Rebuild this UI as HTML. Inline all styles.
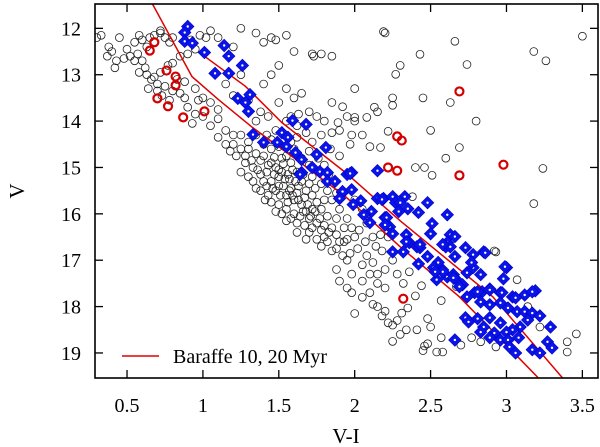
<!DOCTYPE html>
<html><head><meta charset="utf-8"><style>
html,body{margin:0;padding:0;background:#fff;}
svg{display:block;}
text{font-family:"Liberation Serif",serif;fill:#000;}
</style></head><body>
<svg id="chart" width="600" height="447" xmlns="http://www.w3.org/2000/svg">
<defs><clipPath id="clip"><rect x="95" y="4" width="503" height="374"/></clipPath></defs>
<g id="marks" clip-path="url(#clip)"></g>
<g id="axes"></g>
</svg>
<script>
const xTicks=[0.5,1,1.5,2,2.5,3,3.5];
const xTickLabels=["0.5","1","1.5","2","2.5","3","3.5"];
const yTicks=[12,13,14,15,16,17,18,19];
const yTickLabels=["12","13","14","15","16","17","18","19"];
const iso10VI=[0.665,0.928,1.10,1.32,1.64,1.94,2.30,2.69,3.21];
const iso10V=[11.46,13.04,13.53,14.12,14.89,15.63,16.71,17.79,19.54];
const iso20VI=[1.01,1.28,1.52,1.94,2.30,2.91,3.37];
const iso20V=[12.60,13.25,14.03,15.11,16.15,17.79,19.54];
const redVI=[0.68,0.65,0.76,0.82,0.82,0.70,0.77,0.87,1.01,2.28,2.31,2.22,2.28,2.69,2.98,2.69,2.32];
const redV=[12.30,12.48,12.91,13.04,13.23,13.51,13.68,13.92,13.79,14.33,14.42,15.00,15.07,15.17,14.94,13.36,17.83];
const blue=[[0.90,11.96],[0.88,12.09],[0.88,12.28],[0.93,12.32],[1.14,12.37],[1.01,12.52],[1.17,12.60],[1.26,12.80],[1.08,12.97],[1.17,12.97],[1.31,13.43],[1.23,13.51],[1.28,13.60],[1.30,13.79],[1.59,13.99],[1.68,14.07],[1.33,14.29],[1.40,14.46],[1.52,14.25],[1.56,14.35],[1.49,14.46],[1.55,14.55],[1.61,14.68],[1.65,14.83],[1.81,14.57],[1.75,14.72],[1.65,15.11],[1.72,15.00],[1.77,15.09],[1.82,15.11],[1.82,15.30],[1.87,15.30],[1.92,15.54],[1.64,15.15],[1.95,15.15],[1.98,15.11],[2.15,15.07],[1.97,15.13],[1.92,15.52],[1.98,15.48],[1.90,15.67],[2.04,15.72],[1.99,15.80],[2.11,15.95],[2.15,15.67],[2.19,15.67],[2.25,15.63],[2.27,15.76],[2.06,16.02],[2.10,16.19],[2.20,16.08],[2.23,16.28],[2.25,16.43],[2.25,16.82],[2.33,15.63],[2.30,15.76],[2.18,15.69],[2.48,15.76],[2.61,16.02],[2.35,15.89],[2.42,15.97],[2.29,15.95],[2.21,16.08],[2.20,16.24],[2.51,16.21],[2.50,16.43],[2.34,16.45],[2.36,16.62],[2.41,16.71],[2.63,16.45],[2.66,16.49],[2.61,16.62],[2.60,16.71],[2.63,16.71],[2.32,16.82],[2.43,16.73],[2.48,16.92],[2.55,17.05],[2.66,16.92],[2.73,16.73],[2.78,16.88],[2.85,16.82],[2.74,17.27],[2.78,17.16],[2.83,17.31],[2.42,17.08],[2.52,17.16],[2.58,17.21],[2.54,17.42],[2.61,17.36],[2.65,17.31],[2.67,17.42],[2.71,17.53],[3.00,17.16],[2.98,17.40],[2.89,17.62],[2.96,17.70],[3.04,17.79],[3.12,17.75],[3.19,17.66],[2.79,17.70],[2.84,17.68],[2.74,17.79],[2.34,16.60],[2.43,16.66],[2.58,16.66],[2.86,16.84],[2.77,17.05],[2.99,17.14],[2.58,17.25],[2.53,17.25],[2.65,17.38],[2.69,17.57],[2.81,17.68],[2.89,17.64],[2.97,17.70],[3.06,17.81],[3.17,17.68],[2.83,17.90],[2.89,17.96],[2.96,17.92],[3.01,18.03],[3.07,18.11],[3.12,18.11],[3.17,18.14],[3.22,18.20],[3.14,18.29],[3.09,18.44],[3.29,18.44],[3.04,18.50],[2.73,18.24],[2.75,18.33],[2.81,18.26],[2.89,18.24],[2.96,18.35],[2.85,18.44],[2.92,18.57],[3.00,18.55],[2.89,18.67],[2.96,18.72],[3.01,18.72],[3.08,18.67],[3.02,18.87],[3.06,19.00],[3.17,18.93],[3.22,19.00],[3.27,18.76],[3.30,18.89],[2.66,18.72],[2.83,18.55]];
const black=[[0.30,12.2],[0.33,12.15],[0.38,12.4],[0.40,12.5],[0.43,12.7],[0.48,12.65],[0.52,12.6],[0.55,12.7],[0.57,12.55],[0.60,12.7],[0.50,12.45],[0.55,12.3],[0.60,12.25],[0.63,12.4],[0.65,12.2],[0.68,12.15],[0.72,12.1],[0.75,12.2],[0.78,12.3],[0.80,12.2],[0.72,12.05],[0.62,12.85],[0.58,12.95],[0.63,13.0],[0.68,13.05],[0.72,12.95],[0.77,12.8],[0.80,12.75],[0.85,12.6],[0.90,12.55],[0.95,12.45],[0.92,12.25],[0.98,12.15],[1.02,12.2],[0.66,13.1],[0.70,13.2],[0.75,13.25],[0.80,13.35],[0.85,13.4],[0.88,13.5],[0.70,13.35],[0.64,13.3],[0.78,13.55],[0.90,13.7],[0.95,13.85],[1.00,13.9],[0.93,14.05],[1.05,14.1],[1.10,13.95],[1.15,14.2],[1.20,14.3],[0.73,13.45],[0.83,13.1],[0.88,13.15],[0.95,13.3],[1.00,13.5],[1.05,13.6],[1.10,13.75],[0.97,13.55],[0.58,12.15],[0.45,12.2],[0.37,12.6],[0.42,12.85],
[1.05,12.05],[1.10,12.2],[1.20,12.4],[1.25,12.0],[1.35,12.1],[1.40,12.3],[1.45,12.2],[1.48,12.25],[1.55,12.15],[1.60,12.5],[1.50,12.8],[1.45,13.0],[1.40,13.2],[1.55,13.3],[1.60,13.5],[1.50,13.6],[1.38,13.8],[1.43,13.9],[1.65,13.4],[1.70,13.8],[1.75,13.9],[1.80,14.0],[1.25,13.0],[1.20,13.45],[1.30,13.55],[1.15,13.2],[1.35,14.0],[1.55,14.0],[1.62,14.1],[1.78,14.3],[1.85,14.25],[1.90,14.2],[2.0,14.0],[1.72,12.55],[1.73,12.6],[1.78,12.55],[1.85,13.6],[1.95,13.9],[1.98,14.3],
[1.20,14.5],[1.25,14.6],[1.30,14.45],[1.35,14.7],[1.28,14.9],[1.33,15.0],[1.38,14.85],[1.42,15.1],[1.45,14.9],[1.48,15.0],[1.40,15.3],[1.45,15.3],[1.50,15.2],[1.53,15.4],[1.48,15.5],[1.55,15.6],[1.58,15.45],[1.60,15.7],[1.62,15.55],[1.65,15.8],[1.68,15.95],[1.70,16.1],[1.72,15.9],[1.75,16.2],[1.78,16.35],[1.80,16.5],[1.55,15.9],[1.60,16.0],[1.50,15.8],[1.43,15.6],[1.38,15.5],[1.52,14.8],[1.58,14.9],[1.62,15.1],[1.65,15.3],[1.68,15.5],[1.72,15.6],[1.75,15.75],[1.78,15.9],[1.82,16.05],[1.85,16.3],[1.88,16.45],[1.90,16.6],[1.35,14.3],[1.40,14.5],[1.45,14.6],[1.50,14.55],[1.55,14.75],[1.60,14.6],[1.65,14.8],[1.70,14.95],[1.72,15.2],[1.78,15.35],[1.82,15.5],[1.85,15.7],[1.90,15.9],[1.95,16.1],[1.98,16.3],[2.0,16.5],[1.52,15.1],[1.57,15.25],[1.47,15.15],[1.42,15.4],[1.63,15.4],[1.67,15.65],[1.57,15.5],[1.25,14.3],[1.15,14.5],[1.10,14.35],[1.22,14.75],[1.30,15.2],[1.35,15.45],[1.25,15.1],[1.45,15.75],[1.52,16.0],[1.62,16.2],[1.70,16.4],[1.75,16.55],[1.85,16.8],[1.92,16.9],[1.95,17.0],[2.02,16.75],[2.05,17.1],[2.10,17.3],[1.98,17.3],[2.15,17.5],[2.08,16.9],[2.12,17.05],[2.20,17.2],[2.18,16.8],[1.88,16.1],[1.93,16.3],[2.0,15.7],[2.05,15.9],[2.08,16.2],[2.12,16.5],[2.17,16.45],[2.22,16.5],[1.58,13.9],[1.63,13.85],[1.68,14.25],[1.72,14.45],[1.84,14.6],[1.90,14.75],[1.97,14.5],[2.05,14.3],[2.10,14.55],[2.13,13.7],[2.15,13.8],[2.25,13.5],[2.45,13.5],[2.5,14.2],[2.4,15.0],[2.6,14.8],[1.85,12.6],[2.2,12.1],[2.3,12.8],[2.0,13.3],
[1.40,14.75],[1.43,14.95],[1.47,14.78],[1.50,15.05],[1.53,14.92],[1.56,15.15],[1.59,15.05],[1.61,15.3],[1.54,15.25],[1.50,15.4],[1.46,15.45],[1.51,15.6],[1.56,15.75],[1.59,15.6],[1.63,15.7],[1.66,15.95],[1.69,15.8],[1.71,16.05],[1.74,15.95],[1.77,16.1],[1.80,16.25],[1.83,16.4],[1.64,16.05],[1.58,16.1],[1.67,16.25],[1.72,16.3],[1.38,15.15],[1.33,15.3],[1.41,15.7],[1.48,15.95],[1.55,16.15],[1.62,16.4],[1.68,16.55],[1.78,16.7],[1.82,16.6],[1.88,16.75],[1.93,16.6],[1.97,16.85],[1.88,15.55],[1.80,15.7],[1.70,15.35],[1.74,15.45],[1.66,15.15],[1.30,14.6],[1.32,14.85],[1.36,15.05],[1.28,14.75],[1.18,14.65],[1.45,14.4],[1.48,14.2],[1.42,14.3],[1.58,14.45],[1.62,14.35],[1.70,14.65],[1.76,14.8],[1.80,14.95],[1.83,15.15],[1.95,16.55],[2.03,16.35],[2.07,16.6],[2.14,16.7],[2.25,17.0],[2.28,17.3],[2.32,17.5],[2.20,17.6],[2.05,17.45],[1.98,17.7],[2.15,17.3],
[2.92,16.80],[3.07,17.42],[3.14,18.00],[3.22,18.44],[3.46,18.59],[3.40,18.76],[3.40,18.98],[2.36,17.25],[2.44,17.55],[2.40,17.77],[2.35,18.03],[2.48,18.26],[2.41,18.50],[2.50,18.44],[2.57,18.67],[2.54,18.98],[2.58,18.98],[2.70,18.83],[2.77,18.67],[2.83,18.76],[2.57,17.87],[2.67,17.57],[2.34,18.50],[2.31,18.14],[2.93,18.87],
[2.05,17.8],[2.10,17.7],[2.12,17.95],[2.15,18.0],[2.18,18.2],[2.2,18.1],[2.22,18.35],[2.25,18.4],[2.28,18.3],[2.0,18.15],[1.95,17.6],[1.9,17.45],[1.88,17.2],[2.25,18.75],[2.3,18.6],[2.48,18.8],[2.46,18.85],[2.45,18.95],
[3.50,12.17],[3.18,12.5],[3.26,12.7],[2.66,12.28],[2.19,12.07],[2.43,12.56],[2.74,12.78],[2.27,12.99],[2.25,13.66],[2.80,14.0],[2.69,14.57],[2.46,15.0],[2.51,15.17],[3.24,15.02],[3.18,15.78],[2.63,13.6],[2.08,13.92],[1.92,13.69],[2.00,13.92],[1.89,14.03],[2.22,14.22],[2.17,14.57],[2.38,15.63],[2.93,16.82]];

const X0=95,X1=598,Y0=4,Y1=378;
const xMin=0.289,xMax=3.603,yMin=11.475,yMax=19.54;
function sx(v){return X0+(v-xMin)/(xMax-xMin)*(X1-X0);}
function sy(v){return Y0+(v-yMin)/(yMax-yMin)*(Y1-Y0);}
const NS="http://www.w3.org/2000/svg";
const marks=document.getElementById('marks');
const axes=document.getElementById('axes');
function mk(tag,attrs,parent){const e=document.createElementNS(NS,tag);for(const k in attrs)e.setAttribute(k,attrs[k]);parent.appendChild(e);return e;}

const gB=mk('g',{},marks);


black.forEach(p=>{const c=mk('circle',{cx:sx(p[0]).toFixed(1),cy:sy(p[1]).toFixed(1),r:3.9,fill:'none',stroke:'#222','stroke-width':0.8},gB);

});

function iso(xs,ys,name){const d=xs.map((x,i)=>(i?'L':'M')+sx(x).toFixed(1)+' '+sy(ys[i]).toFixed(1)).join(' ');
const p=mk('path',{d:d,fill:'none',stroke:'#e00000','stroke-width':1.5},marks);

}
iso(iso10VI,iso10V,'isochrone-10-myr');
iso(iso20VI,iso20V,'isochrone-20-myr');

const gD=mk('g',{},marks);


blue.forEach(p=>{const x=sx(p[0]),y=sy(p[1]),s=6.3;
const d=mk('path',{d:`M${x} ${y-s} L${x+s} ${y} L${x} ${y+s} L${x-s} ${y} Z`,fill:'#0a14e6',stroke:'#0000cc','stroke-width':0.6},gD);


const c=mk('circle',{cx:x,cy:y,r:1.2,fill:'#fff'},gD);

});

const gR=mk('g',{},marks);


redVI.forEach((v,i)=>{const c=mk('circle',{cx:sx(v),cy:sy(redV[i]),r:4,fill:'none',stroke:'#d40000','stroke-width':2.2},gR);

});

const fr=mk('rect',{x:X0,y:Y0,width:X1-X0,height:Y1-Y0,fill:'none',stroke:'#000','stroke-width':1.6},axes);


xTicks.forEach((t,i)=>{const x=sx(t);
mk('line',{x1:x,x2:x,y1:Y1,y2:Y1-8,stroke:'#000','stroke-width':1.3},axes);
mk('line',{x1:x,x2:x,y1:Y0,y2:Y0+8,stroke:'#000','stroke-width':1.3},axes);
const tx=mk('text',{x:x,y:412,'font-size':20,'text-anchor':'middle'},axes);tx.textContent=xTickLabels[i];

});
yTicks.forEach((t,i)=>{const y=sy(t);
mk('line',{x1:X0,x2:X0+8,y1:y,y2:y,stroke:'#000','stroke-width':1.3},axes);
mk('line',{x1:X1,x2:X1-8,y1:y,y2:y,stroke:'#000','stroke-width':1.3},axes);
const tx=mk('text',{x:81,y:y+7,'font-size':20,'text-anchor':'end'},axes);tx.textContent=yTickLabels[i];

});
</script>
<div style="position:absolute;left:0;top:0;width:600px;height:447px;pointer-events:none">
<svg width="600" height="447" xmlns="http://www.w3.org/2000/svg">
<text x="346" y="443" font-size="21" text-anchor="middle" style="font-family:'Liberation Serif',serif">V-I</text>
<text x="0" y="0" font-size="21" text-anchor="middle" transform="translate(24,191) rotate(-90)" style="font-family:'Liberation Serif',serif">V</text>
<g>
<line x1="122" y1="356" x2="159" y2="356" stroke="#e00000" stroke-width="1.5"/>
<text x="173" y="363" font-size="20" style="font-family:'Liberation Serif',serif">Baraffe 10, 20 Myr</text>
</g>
</svg></div>
</body></html>
